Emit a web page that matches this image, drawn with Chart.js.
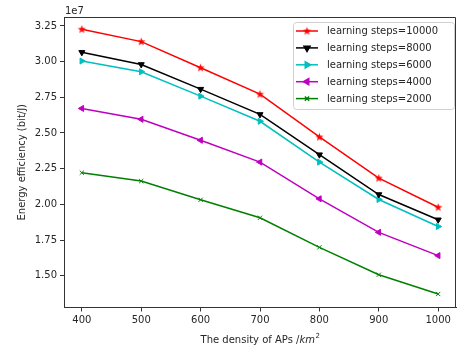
<!DOCTYPE html>
<html>
<head>
<meta charset="utf-8">
<script src="https://cdn.jsdelivr.net/npm/chart.js@4.4.0/dist/chart.umd.min.js"></script>
<style>
  html, body { margin: 0; padding: 0; background: #fff; }
  #wrap { width: 461px; height: 351px; }
</style>
</head>
<body>
<div id="wrap"><canvas id="myChart" width="461" height="351"></canvas></div>
<script>
//DATA (energy efficiency, in units of 1e7 bit/J)
//-----------------------------------------
let densities = [400, 500, 600, 700, 800, 900, 1000]
let steps10000 = [3.227, 3.140, 2.957, 2.772, 2.472, 2.184, 1.980]
let steps8000 = [3.065, 2.980, 2.807, 2.630, 2.348, 2.069, 1.892]
let steps6000 = [3.004, 2.929, 2.758, 2.582, 2.296, 2.034, 1.845]
let steps4000 = [2.672, 2.596, 2.449, 2.296, 2.039, 1.804, 1.641]
let steps2000 = [2.222, 2.163, 2.032, 1.906, 1.699, 1.507, 1.372]

let xTicks = [400, 500, 600, 700, 800, 900, 1000]
let yTicks = [1.50, 1.75, 2.00, 2.25, 2.50, 2.75, 3.00, 3.25]

const FONT = 'DejaVu Sans'
const TICK_COLOR = '#262626'

//filled star marker like matplotlib '*'
function makeStar(color) {
    let c = document.createElement('canvas')
    c.width = 9
    c.height = 9
    let g = c.getContext('2d')
    g.fillStyle = color
    g.beginPath()
    for (let i = 0; i < 10; i++) {
        let r = (i % 2 == 0) ? 4.3 : 1.8
        let a = -Math.PI / 2 + i * Math.PI / 5
        let px = 4.5 + r * Math.cos(a)
        let py = 4.8 + r * Math.sin(a)
        if (i == 0) g.moveTo(px, py)
        else g.lineTo(px, py)
    }
    g.closePath()
    g.fill()
    return c
}

function points(values) {
    return values.map((v, i) => ({ x: densities[i], y: v }))
}

function series(label, values, color, style, rotation, radius) {
    return {
        label: label,
        data: points(values),
        borderColor: color,
        backgroundColor: color,
        borderWidth: 1.5,
        pointStyle: style,
        pointRotation: rotation,
        pointRadius: radius,
        pointBorderWidth: 1,
        pointBackgroundColor: color,
        pointBorderColor: color,
        tension: 0
    }
}

let datasets = [
    series('learning steps=10000', steps10000, '#ff0000', makeStar('#ff0000'), 0, 3.5),
    series('learning steps=8000', steps8000, '#000000', 'triangle', 180, 3.5),
    series('learning steps=6000', steps6000, '#00bfbf', 'triangle', 90, 3.5),
    series('learning steps=4000', steps4000, '#bf00bf', 'triangle', -90, 3.5),
    series('learning steps=2000', steps2000, '#008000', 'crossRot', 0, 3)
]

//extra text + legend drawn on top
const extras = {
    id: 'extras',
    afterDraw(chart) {
        let c = chart.ctx
        let area = chart.chartArea
        c.save()

        //offset text
        c.fillStyle = TICK_COLOR
        c.font = '10px "' + FONT + '"'
        c.textAlign = 'left'
        c.textBaseline = 'alphabetic'
        c.fillText('1e7', area.left + 1, area.top - 3)

        //x axis title with italic unit
        c.font = '10px "' + FONT + '"'
        let part1 = 'The density of APs /'
        let w1 = c.measureText(part1).width
        c.font = 'italic 10px "' + FONT + '"'
        let w2 = c.measureText('km').width
        c.font = '7px "' + FONT + '"'
        let w3 = c.measureText('2').width
        let total = w1 + w2 + w3
        let sx = (area.left + area.right) / 2 - total / 2
        let ty = 343
        c.font = '10px "' + FONT + '"'
        c.fillText(part1, sx, ty)
        c.font = 'italic 10px "' + FONT + '"'
        c.fillText('km', sx + w1, ty)
        c.font = '7px "' + FONT + '"'
        c.fillText('2', sx + w1 + w2 + 0.5, ty - 5)

        //y axis title
        c.translate(22, (area.top + area.bottom) / 2)
        c.rotate(-Math.PI / 2)
        c.textAlign = 'center'
        c.textBaseline = 'middle'
        c.font = '10px "' + FONT + '"'
        c.fillText('Energy efficiency (bit/J)', 0, 0)
        c.setTransform(1, 0, 0, 1, 0, 0)

        //legend box
        let bx = 293, by = 22, bw = 161, bh = 87
        c.fillStyle = 'rgba(255,255,255,0.8)'
        c.strokeStyle = '#d0d0d0'
        c.lineWidth = 1
        c.beginPath()
        c.roundRect(bx + 0.5, by + 0.5, bw, bh, 3)
        c.fill()
        c.stroke()

        c.font = '10px "' + FONT + '"'
        c.textAlign = 'left'
        c.textBaseline = 'middle'
        for (let i = 0; i < chart.data.datasets.length; i++) {
            let ds = chart.data.datasets[i]
            let y = 31 + i * 16.9
            c.strokeStyle = ds.borderColor
            c.lineWidth = 1.5
            c.beginPath()
            c.moveTo(296, y)
            c.lineTo(318, y)
            c.stroke()
            c.fillStyle = ds.borderColor
            Chart.helpers.drawPoint(c, {
                pointStyle: ds.pointStyle,
                radius: ds.pointRadius,
                rotation: ds.pointRotation,
                borderWidth: 1
            }, 307, y)
            if (typeof ds.pointStyle === 'string') c.fill()
            c.fillStyle = TICK_COLOR
            c.fillText(ds.label, 327, y + 0.5)
        }
        c.restore()
    }
}

let ctx = document.getElementById('myChart').getContext('2d')
let mychart = new Chart(ctx, {
    type: 'line',
    data: { datasets: datasets },
    options: {
        responsive: false,
        animation: false,
        layout: { padding: { top: 17, right: 2, left: 0, bottom: 0 } },
        plugins: {
            legend: { display: false },
            tooltip: { enabled: false }
        },
        scales: {
            x: {
                type: 'linear',
                min: 370,
                max: 1030,
                afterBuildTicks: (scale) => { scale.ticks = xTicks.map(v => ({ value: v })) },
                afterFit: (scale) => { scale.height = 43.5 },
                grid: { display: true, drawOnChartArea: false, tickLength: 4, tickColor: '#333', color: '#333' },
                border: { display: true, color: '#333', width: 1 },
                ticks: {
                    color: TICK_COLOR,
                    font: { family: FONT, size: 10 },
                    padding: 3,
                    maxRotation: 0,
                    callback: (v) => String(v)
                }
            },
            y: {
                type: 'linear',
                min: 1.2775,
                max: 3.3125,
                afterBuildTicks: (scale) => { scale.ticks = yTicks.map(v => ({ value: v })) },
                afterFit: (scale) => { scale.width = 64 },
                grid: { display: true, drawOnChartArea: false, tickLength: 4, tickColor: '#333', color: '#333' },
                border: { display: true, color: '#333', width: 1 },
                ticks: {
                    color: TICK_COLOR,
                    font: { family: FONT, size: 10 },
                    padding: 3,
                    callback: (v) => v.toFixed(2)
                }
            }
        }
    },
    plugins: [extras, {
        id: 'frame',
        afterDatasetsDraw(chart) {
            let c = chart.ctx
            let a = chart.chartArea
            c.save()
            c.strokeStyle = '#333'
            c.lineWidth = 1
            c.beginPath()
            c.moveTo(a.left, a.top + 0.5)
            c.lineTo(a.right - 0.5, a.top + 0.5)
            c.lineTo(a.right - 0.5, a.bottom)
            c.stroke()
            c.restore()
        }
    }]
})
</script>
</body>
</html>
